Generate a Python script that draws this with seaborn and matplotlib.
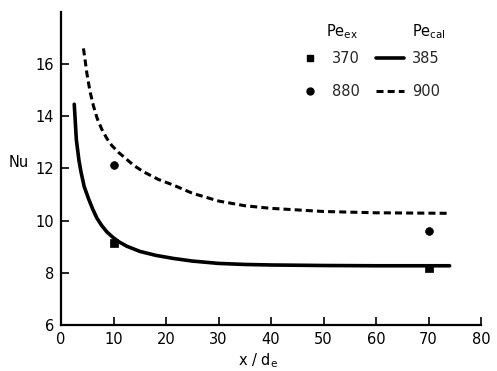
import matplotlib
matplotlib.use("Agg")
import matplotlib.pyplot as plt
import seaborn as sns
from matplotlib.lines import Line2D

# calculated curves
x_cal385 = [2.5, 2.9, 3.4, 3.8, 4.4, 5.2, 6.0, 6.8, 7.7, 8.7, 9.8, 10.9, 12.5, 15, 18, 21.4, 25, 30, 35, 40, 50, 60, 74]
nu_cal385 = [14.46, 13.1, 12.3, 11.85, 11.3, 10.85, 10.45, 10.1, 9.82, 9.57, 9.37, 9.2, 9.02, 8.82, 8.67, 8.55,
             8.45, 8.36, 8.32, 8.3, 8.28, 8.27, 8.27]
x_cal900 = [4.25, 4.6, 4.9, 5.5, 6.15, 6.9, 7.75, 8.7, 9.65, 10.9, 12.2, 13.8, 15.7, 18.5, 21.4, 25, 30, 35, 40, 50, 60, 74]
nu_cal900 = [16.6, 16.1, 15.65, 14.95, 14.4, 13.9, 13.5, 13.15, 12.88, 12.62, 12.4, 12.12, 11.87, 11.58, 11.36,
             11.05, 10.75, 10.57, 10.47, 10.35, 10.3, 10.28]

# experimental points
x_ex = [10, 70]
nu_ex370 = [9.15, 8.2]
nu_ex880 = [12.15, 9.6]

xticks = [0, 10, 20, 30, 40, 50, 60, 70, 80]
yticks = [6, 8, 10, 12, 14, 16]

sns.set_theme(style="white")
plt.rcParams['font.family'] = ['DejaVu Sans']

fig = plt.figure(figsize=(4.97, 3.71), dpi=100)
ax = fig.add_axes([0.123, 0.124, 0.845, 0.844])

DASH = (0, (2.3, 1.35))
sns.lineplot(x=x_cal385, y=nu_cal385, ax=ax, color='black', lw=2.6, sort=False)
sns.lineplot(x=x_cal900, y=nu_cal900, ax=ax, color='black', lw=2.2, sort=False, linestyle=DASH)
sns.scatterplot(x=x_ex, y=nu_ex370, ax=ax, marker='s', color='black', s=38, edgecolor='black')
sns.scatterplot(x=x_ex, y=nu_ex880, ax=ax, marker='o', color='black', s=32, edgecolor='black')

ax.set_xlim(0, 80)
ax.set_ylim(6, 18)
ax.set_xticks(xticks)
ax.set_yticks(yticks)
ax.tick_params(direction='in', length=6, width=1.2, labelsize=10.5, colors='black',
               bottom=True, left=True, pad=5)
for s in ['top', 'right']:
    ax.spines[s].set_visible(False)
for s in ['left', 'bottom']:
    ax.spines[s].set_color('black')
    ax.spines[s].set_linewidth(1.6)

ax.set_ylabel('Nu', rotation=0, fontsize=10.5, color='black', va='center', ha='center')
ax.yaxis.set_label_coords(-0.10, 0.52)
ax.set_xlabel(r'x / d$_\mathregular{e}$', fontsize=10.5, color='black')
ax.xaxis.set_label_coords(0.47, -0.085)

handles = [Line2D([], [], linestyle='none', marker='s', color='black', markersize=5),
           Line2D([], [], linestyle='none', marker='o', color='black', markersize=5),
           Line2D([], [], color='black', lw=2.6),
           Line2D([], [], color='black', lw=2.2, linestyle=DASH)]
labels = ['370', '880', '385', '900']
ax.legend(handles, labels, ncol=2, frameon=False, fontsize=10.5,
          loc='upper left', bbox_to_anchor=(0.56, 0.875), borderpad=0, borderaxespad=0,
          handlelength=1.9, handletextpad=0.55, columnspacing=1.1, labelspacing=1.25)
ax.text(0.631, 0.937, r'Pe$_\mathregular{ex}$', transform=ax.transAxes, fontsize=10.5,
        va='center', ha='left', color='black')
ax.text(0.836, 0.937, r'Pe$_\mathregular{cal}$', transform=ax.transAxes, fontsize=10.5,
        va='center', ha='left', color='black')

fig.savefig('out.png', dpi=100)
